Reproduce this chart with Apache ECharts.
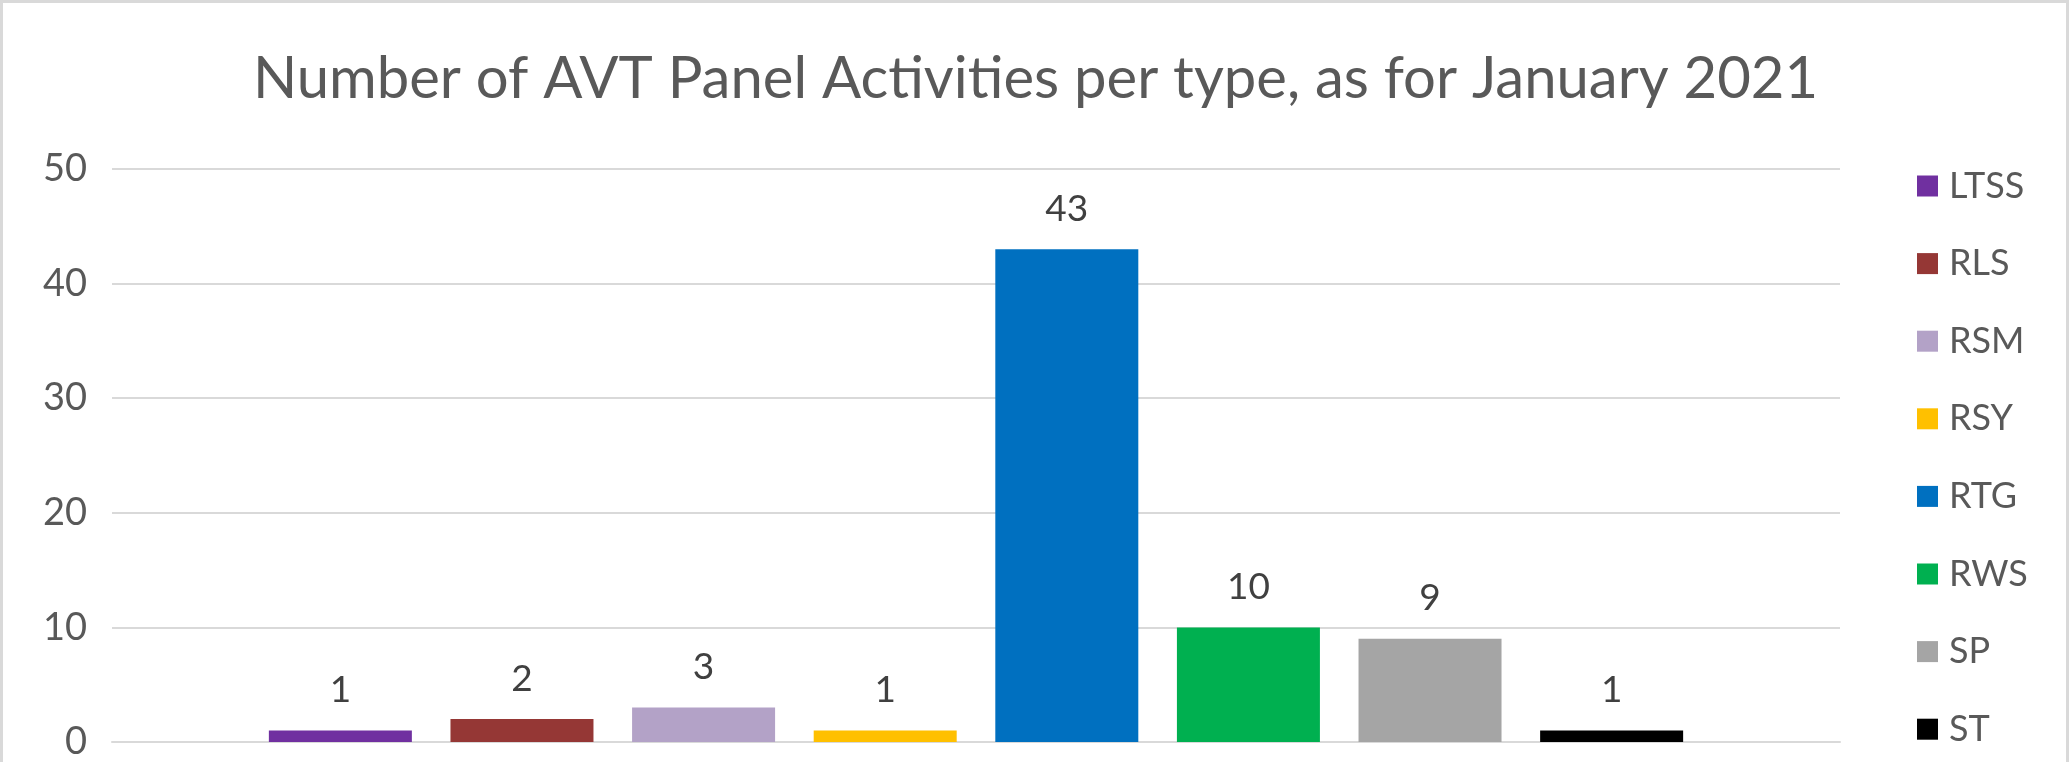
<!DOCTYPE html>
<html>
<head>
<meta charset="utf-8">
<script src="https://cdn.jsdelivr.net/npm/echarts@6/dist/echarts.min.js"></script>
<style>
html,body{margin:0;padding:0;background:#fff;}
#chart{width:2071px;height:762px;}
</style>
</head>
<body>
<div id="chart"></div>
<script>
const titleText = 'Number of AVT Panel Activities per type, as for January 2021';
const types = ['LTSS', 'RLS', 'RSM', 'RSY', 'RTG', 'RWS', 'SP', 'ST'];
const counts = [1, 2, 3, 1, 43, 10, 9, 1];
const colors = ['#7030A0', '#953735', '#B3A2C7', '#FFC000', '#0070C0', '#00B050', '#A5A5A5', '#000000'];
const category = [''];
const yTicks = { min: 0, max: 50, interval: 10 };

const FONT = 'Lato';
const chart = echarts.init(document.getElementById('chart'));

const series = types.map((name, i) => ({
  name: name,
  type: 'bar',
  data: [counts[i]],
  barWidth: 143,
  barGap: '27%',
  itemStyle: { color: colors[i] },
  label: {
    show: true,
    position: 'top',
    distance: 22,
    color: '#404040',
    fontFamily: FONT,
    fontSize: 37
  }
}));

chart.setOption({
  animation: false,
  backgroundColor: '#ffffff',
  title: {
    text: titleText,
    left: 'center',
    top: 45,
    textStyle: { fontFamily: FONT, fontSize: 58, fontWeight: 'normal', color: '#595959' }
  },
  legend: {
    orient: 'vertical',
    left: 1912,
    top: 163,
    itemWidth: 21,
    itemHeight: 21,
    itemGap: 41.6,
    icon: 'rect',
    data: types,
    textStyle: { fontFamily: FONT, fontSize: 36, color: '#595959', padding: [0, 0, 0, 6] }
  },
  grid: { left: 112, right: 231, top: 169, bottom: 20, containLabel: false },
  xAxis: {
    type: 'category',
    data: category,
    axisLine: { show: true, lineStyle: { color: '#d9d9d9', width: 2 } },
    axisTick: { show: false },
    axisLabel: { show: false }
  },
  yAxis: {
    type: 'value',
    min: yTicks.min,
    max: yTicks.max,
    interval: yTicks.interval,
    axisLine: { show: false },
    axisTick: { show: false },
    splitLine: { lineStyle: { color: '#d9d9d9', width: 2 } },
    axisLabel: { fontFamily: FONT, fontSize: 38, color: '#595959', margin: 25 }
  },
  graphic: [{
    type: 'rect',
    shape: { x: 1.5, y: 1.5, width: 2066, height: 820 },
    style: { fill: 'none', stroke: '#d9d9d9', lineWidth: 3 },
    silent: true,
    z: 100
  }],
  series: series
});
</script>
</body>
</html>
